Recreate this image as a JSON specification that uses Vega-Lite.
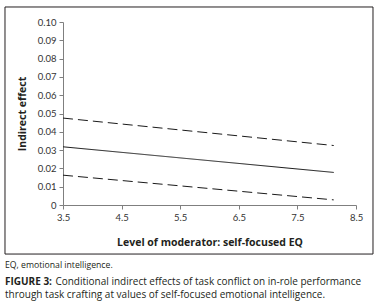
{
  "$schema": "https://vega.github.io/schema/vega-lite/v6.json",
  "width": 293,
  "height": 183,
  "autosize": {"type": "none"},
  "padding": {"left": 63, "top": 22, "right": 26, "bottom": 102},
  "background": "white",
  "config": {
    "view": {"stroke": null},
    "font": "Lato",
    "axis": {
      "titleFont": "Open Sans", "titleFontSize": 10.5, "titleFontWeight": "bold", "titleColor": "#231f20",
      "labelFont": "Lato", "labelFontSize": 9.5, "labelColor": "#333333", "labelPadding": 3,
      "labelOverlap": false, "labelFlush": false,
      "domainColor": "#7f7f7f", "tickColor": "#7f7f7f", "tickSize": 4, "grid": false
    }
  },
  "datasets": {
    "effects": [
      {"level": 3.5, "effect": 0.0475, "series": "Upper"},
      {"level": 8.12, "effect": 0.0325, "series": "Upper"},
      {"level": 3.5, "effect": 0.0318, "series": "Estimate"},
      {"level": 8.12, "effect": 0.0178, "series": "Estimate"},
      {"level": 3.5, "effect": 0.0163, "series": "Lower"},
      {"level": 8.12, "effect": 0.0028, "series": "Lower"}
    ]
  },
  "layer": [
    {
      "data": {"name": "effects"},
      "mark": {"type": "line", "color": "#1a1a1a", "strokeWidth": 1},
      "encoding": {
        "x": {
          "field": "level", "type": "quantitative",
          "scale": {"domain": [3.5, 8.5], "nice": false, "zero": false},
          "axis": {
            "values": [3.5, 4.5, 5.5, 6.5, 7.5, 8.5],
            "labelExpr": "format(datum.value, '.1f')",
            "title": "Level of moderator: self-focused EQ",
            "titlePadding": 16
          }
        },
        "y": {
          "field": "effect", "type": "quantitative",
          "scale": {"domain": [0, 0.1], "nice": false},
          "axis": {
            "values": [0, 0.01, 0.02, 0.03, 0.04, 0.05, 0.06, 0.07, 0.08, 0.09, 0.1],
            "labelExpr": "datum.value == 0 ? '0' : format(datum.value, '.2f')",
            "title": "Indirect effect",
            "titlePadding": 10
          }
        },
        "detail": {"field": "series"},
        "strokeDash": {
          "field": "series", "type": "nominal",
          "scale": {"domain": ["Upper", "Estimate", "Lower"], "range": [[10, 5], [1, 0], [10, 5]]},
          "legend": null
        }
      }
    },
    {
      "data": {"values": [{}]},
      "mark": {"type": "rect", "fill": null, "stroke": "#231f20", "strokeWidth": 1},
      "encoding": {
        "x": {"datum": 2.51, "type": "quantitative", "axis": {"values": [3.5, 4.5, 5.5, 6.5, 7.5, 8.5], "labelExpr": "format(datum.value, '.1f')", "title": "Level of moderator: self-focused EQ", "titlePadding": 16}},
        "x2": {"datum": 8.79},
        "y": {"datum": -0.0268, "type": "quantitative", "axis": {"values": [0, 0.01, 0.02, 0.03, 0.04, 0.05, 0.06, 0.07, 0.08, 0.09, 0.1], "labelExpr": "datum.value == 0 ? '0' : format(datum.value, '.2f')", "title": "Indirect effect", "titlePadding": 10}},
        "y2": {"datum": 0.1082}
      }
    },
    {
      "data": {"values": [{}]},
      "mark": {"type": "text", "text": "EQ, emotional intelligence.", "font": "Open Sans", "fontSize": 8.7, "align": "left", "baseline": "alphabetic", "color": "#231f20"},
      "encoding": {
        "x": {"datum": 2.51, "type": "quantitative", "axis": {"values": [3.5, 4.5, 5.5, 6.5, 7.5, 8.5], "labelExpr": "format(datum.value, '.1f')", "title": "Level of moderator: self-focused EQ", "titlePadding": 16}},
        "y": {"datum": -0.0344, "type": "quantitative", "axis": {"values": [0, 0.01, 0.02, 0.03, 0.04, 0.05, 0.06, 0.07, 0.08, 0.09, 0.1], "labelExpr": "datum.value == 0 ? '0' : format(datum.value, '.2f')", "title": "Indirect effect", "titlePadding": 10}}
      }
    },
    {
      "data": {"values": [{}]},
      "mark": {"type": "text", "text": "FIGURE 3:", "font": "Open Sans", "fontSize": 10, "fontWeight": "bold", "align": "left", "baseline": "alphabetic", "color": "#231f20"},
      "encoding": {
        "x": {"datum": 2.51, "type": "quantitative", "axis": {"values": [3.5, 4.5, 5.5, 6.5, 7.5, 8.5], "labelExpr": "format(datum.value, '.1f')", "title": "Level of moderator: self-focused EQ", "titlePadding": 16}},
        "y": {"datum": -0.0437, "type": "quantitative", "axis": {"values": [0, 0.01, 0.02, 0.03, 0.04, 0.05, 0.06, 0.07, 0.08, 0.09, 0.1], "labelExpr": "datum.value == 0 ? '0' : format(datum.value, '.2f')", "title": "Indirect effect", "titlePadding": 10}}
      }
    },
    {
      "data": {"values": [{}]},
      "mark": {"type": "text", "text": "Conditional indirect effects of task conflict on in-role performance", "font": "Open Sans", "fontSize": 10, "align": "left", "baseline": "alphabetic", "color": "#231f20"},
      "encoding": {
        "x": {"datum": 3.37, "type": "quantitative", "axis": {"values": [3.5, 4.5, 5.5, 6.5, 7.5, 8.5], "labelExpr": "format(datum.value, '.1f')", "title": "Level of moderator: self-focused EQ", "titlePadding": 16}},
        "y": {"datum": -0.0437, "type": "quantitative", "axis": {"values": [0, 0.01, 0.02, 0.03, 0.04, 0.05, 0.06, 0.07, 0.08, 0.09, 0.1], "labelExpr": "datum.value == 0 ? '0' : format(datum.value, '.2f')", "title": "Indirect effect", "titlePadding": 10}}
      }
    },
    {
      "data": {"values": [{}]},
      "mark": {"type": "text", "text": "through task crafting at values of self-focused emotional intelligence.", "font": "Open Sans", "fontSize": 10, "align": "left", "baseline": "alphabetic", "color": "#231f20"},
      "encoding": {
        "x": {"datum": 2.51, "type": "quantitative", "axis": {"values": [3.5, 4.5, 5.5, 6.5, 7.5, 8.5], "labelExpr": "format(datum.value, '.1f')", "title": "Level of moderator: self-focused EQ", "titlePadding": 16}},
        "y": {"datum": -0.0508, "type": "quantitative", "axis": {"values": [0, 0.01, 0.02, 0.03, 0.04, 0.05, 0.06, 0.07, 0.08, 0.09, 0.1], "labelExpr": "datum.value == 0 ? '0' : format(datum.value, '.2f')", "title": "Indirect effect", "titlePadding": 10}}
      }
    }
  ]
}
